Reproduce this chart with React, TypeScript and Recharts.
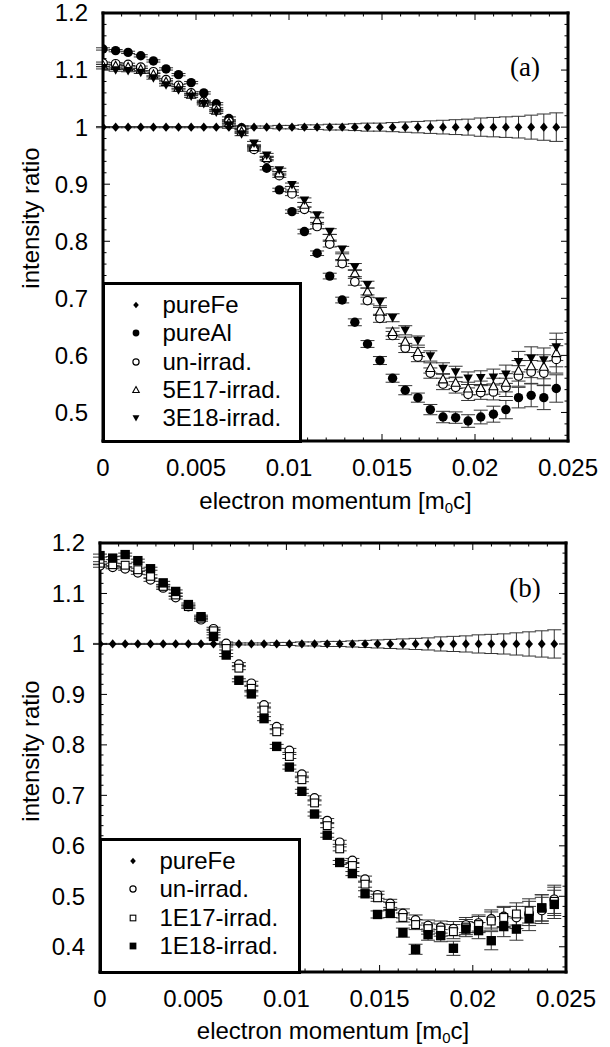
import React from 'react';
import { ScatterChart, Scatter, XAxis, YAxis, ErrorBar, ReferenceLine } from 'recharts';

// electron momentum [m0c], the same channels in both panels
const momentum = [
  0, 0.00068, 0.00135, 0.00203, 0.00271, 0.00339, 0.00406, 0.00474, 0.00542, 0.00609,
  0.00677, 0.00745, 0.00812, 0.0088, 0.00948, 0.01016, 0.01083, 0.01151, 0.01219, 0.01286,
  0.01354, 0.01422, 0.01489, 0.01557, 0.01625, 0.01693, 0.0176, 0.01828, 0.01896, 0.01963,
  0.02031, 0.02099, 0.02166, 0.02234, 0.02302, 0.0237, 0.02437,
];

// panel (a)
const pureFeA = [
  1, 1, 1, 1, 1, 1, 1, 1, 1, 1, 1, 1, 1, 1, 1, 1, 1, 1, 1, 1,
  1, 1, 1, 1, 1, 1, 1, 1, 1, 1, 1, 1, 1, 1, 1, 1, 1,
];
const pureFeErrA = [
  0.001, 0.001, 0.001, 0.001, 0.001, 0.001, 0.001, 0.001, 0.001, 0.001,
  0.002, 0.002, 0.002, 0.002, 0.003, 0.003, 0.004, 0.004, 0.005, 0.005,
  0.006, 0.007, 0.007, 0.008, 0.009, 0.01, 0.011, 0.012, 0.013, 0.014,
  0.016, 0.017, 0.018, 0.019, 0.021, 0.023, 0.025,
];
const pureAlA = [
  1.137, 1.134, 1.131, 1.125, 1.116, 1.102, 1.092, 1.078, 1.06, 1.041,
  1.015, 0.999, 0.963, 0.928, 0.89, 0.852, 0.817, 0.779, 0.739, 0.697,
  0.658, 0.62, 0.591, 0.56, 0.539, 0.526, 0.505, 0.492, 0.491, 0.485,
  0.492, 0.497, 0.505, 0.526, 0.53, 0.526, 0.542,
];
const unIrradA = [
  1.112, 1.111, 1.11, 1.105, 1.097, 1.083, 1.073, 1.06, 1.045, 1.032,
  1.01, 0.995, 0.961, 0.944, 0.915, 0.883, 0.856, 0.826, 0.795, 0.761,
  0.729, 0.696, 0.665, 0.635, 0.613, 0.597, 0.569, 0.55, 0.544, 0.532,
  0.535, 0.536, 0.544, 0.564, 0.571, 0.569, 0.593,
];
const irr5E17A = [
  1.108, 1.107, 1.105, 1.101, 1.092, 1.079, 1.069, 1.057, 1.043, 1.029,
  1.007, 0.992, 0.965, 0.946, 0.919, 0.893, 0.864, 0.837, 0.807, 0.773,
  0.744, 0.712, 0.677, 0.641, 0.624, 0.606, 0.578, 0.558, 0.552, 0.542,
  0.543, 0.546, 0.552, 0.573, 0.581, 0.58, 0.604,
];
const irr3E18A = [
  1.104, 1.1, 1.099, 1.096, 1.086, 1.074, 1.065, 1.054, 1.041, 1.026,
  1.004, 0.988, 0.972, 0.951, 0.925, 0.899, 0.872, 0.846, 0.817, 0.786,
  0.755, 0.724, 0.694, 0.666, 0.644, 0.626, 0.599, 0.577, 0.571, 0.56,
  0.561, 0.562, 0.567, 0.589, 0.595, 0.592, 0.615,
];
const errA = [
  0.002, 0.002, 0.002, 0.002, 0.002, 0.002, 0.002, 0.002, 0.002, 0.002,
  0.003, 0.003, 0.003, 0.003, 0.003, 0.003, 0.004, 0.004, 0.005, 0.005,
  0.006, 0.006, 0.007, 0.007, 0.008, 0.008, 0.009, 0.01, 0.01, 0.011,
  0.012, 0.014, 0.016, 0.018, 0.02, 0.021, 0.024,
];

// panel (b)
const pureFeB = pureFeA.slice();
const pureFeErrB = [
  0.001, 0.001, 0.001, 0.001, 0.001, 0.001, 0.001, 0.001, 0.001, 0.001,
  0.002, 0.002, 0.002, 0.002, 0.003, 0.003, 0.004, 0.004, 0.005, 0.005,
  0.006, 0.007, 0.008, 0.009, 0.01, 0.011, 0.012, 0.014, 0.015, 0.016,
  0.018, 0.019, 0.02, 0.022, 0.024, 0.026, 0.028,
];
const unIrradB = [
  1.155, 1.152, 1.149, 1.141, 1.127, 1.111, 1.092, 1.074, 1.048, 1.03,
  1.001, 0.96, 0.922, 0.879, 0.836, 0.789, 0.742, 0.695, 0.65, 0.607,
  0.571, 0.534, 0.503, 0.486, 0.466, 0.453, 0.442, 0.439, 0.436, 0.443,
  0.447, 0.455, 0.46, 0.458, 0.466, 0.472, 0.494,
];
const irr1E17B = [
  1.16, 1.157, 1.156, 1.147, 1.134, 1.114, 1.097, 1.074, 1.051, 1.026,
  0.991, 0.952, 0.912, 0.869, 0.826, 0.777, 0.731, 0.685, 0.64, 0.594,
  0.561, 0.524, 0.497, 0.48, 0.458, 0.444, 0.436, 0.433, 0.43, 0.439,
  0.444, 0.451, 0.458, 0.465, 0.471, 0.477, 0.49,
];
const irr1E18B = [
  1.175, 1.17, 1.177, 1.165, 1.149, 1.121, 1.104, 1.078, 1.054, 1.015,
  0.978, 0.928, 0.901, 0.852, 0.797, 0.756, 0.708, 0.663, 0.621, 0.567,
  0.545, 0.505, 0.464, 0.466, 0.428, 0.395, 0.424, 0.422, 0.397, 0.435,
  0.432, 0.412, 0.44, 0.435, 0.456, 0.477, 0.484,
];
const errB = [
  0.003, 0.003, 0.003, 0.003, 0.003, 0.003, 0.003, 0.003, 0.003, 0.003,
  0.003, 0.003, 0.004, 0.004, 0.004, 0.004, 0.004, 0.004, 0.004, 0.004,
  0.004, 0.006, 0.007, 0.008, 0.009, 0.01, 0.011, 0.012, 0.014, 0.015,
  0.016, 0.018, 0.02, 0.022, 0.024, 0.026, 0.028,
];

const xLabels = [0, 0.005, 0.01, 0.015, 0.02, 0.025];
const yLabelsA = [0.5, 0.6, 0.7, 0.8, 0.9, 1, 1.1, 1.2];
const yLabelsB = [0.4, 0.5, 0.6, 0.7, 0.8, 0.9, 1, 1.1, 1.2];

const FONT = '"Liberation Sans", Arial, Helvetica, sans-serif';
const SERIF = '"Liberation Serif", "Times New Roman", serif';
const FS = 24;

// minor ticks: x every 0.001, y every 0.02
const xTicks = Array.from({ length: 26 }, (_, i) => i / 1000);
const yTicksFrom = (lo: number, hi: number) => {
  const out: number[] = [];
  for (let k = Math.round(lo * 50); k <= Math.round(hi * 50); k++) out.push(k / 50);
  return out;
};

const pts = (ys: number[], errs: number[]) =>
  momentum.map((x, i) => ({ x, y: ys[i], err: errs[i] }));

type Kind = 'diamond' | 'dot' | 'ring' | 'tri' | 'tridown' | 'square' | 'box';

const Marker = ({ kind, cx, cy, s }: { kind: Kind; cx: number; cy: number; s: number }) => {
  switch (kind) {
    case 'diamond':
      return <polygon points={`${cx},${cy - 4.6 * s} ${cx + 3.9 * s},${cy} ${cx},${cy + 4.6 * s} ${cx - 3.9 * s},${cy}`} fill="#000" />;
    case 'dot':
      return <circle cx={cx} cy={cy} r={4.7 * s} fill="#000" />;
    case 'ring':
      return <circle cx={cx} cy={cy} r={4.3 * s} fill="#fff" stroke="#000" strokeWidth={1.2} />;
    case 'tri':
      return <polygon points={`${cx},${cy - 4.8 * s} ${cx + 4.5 * s},${cy + 3.5 * s} ${cx - 4.5 * s},${cy + 3.5 * s}`} fill="#fff" stroke="#000" strokeWidth={1.1} />;
    case 'tridown':
      return <polygon points={`${cx - 4.8 * s},${cy - 3.7 * s} ${cx + 4.8 * s},${cy - 3.7 * s} ${cx},${cy + 4.8 * s}`} fill="#000" />;
    case 'square':
      return <rect x={cx - 4.7 * s} y={cy - 4.7 * s} width={9.4 * s} height={9.4 * s} fill="#000" />;
    default:
      return <rect x={cx - 3.9 * s} y={cy - 3.9 * s} width={7.8 * s} height={7.8 * s} fill="#fff" stroke="#000" strokeWidth={1.1} />;
  }
};

type Box = { left: number; right: number; top: number; bottom: number };
type SeriesDef = { name: string; kind: Kind; data: { x: number; y: number; err: number }[]; cap: number };

const findMajor = (list: number[], v: number) => list.find((t) => Math.abs(t - v) < 1e-9);

const XTick = ({ x, y, payload, top }: any) => {
  const major = findMajor(xLabels, payload.value);
  const len = major !== undefined ? 7 : 3.5;
  return (
    <g>
      <line x1={x} y1={y} x2={x} y2={y - len} stroke="#000" strokeWidth={1} />
      <line x1={x} y1={top} x2={x} y2={top + len} stroke="#000" strokeWidth={1} />
      {major !== undefined && (
        <text x={x} y={y + 27} dy="0.35em" textAnchor="middle" fontFamily={FONT} fontSize={FS} fill="#000">
          {String(major)}
        </text>
      )}
    </g>
  );
};

const YTick = ({ x, y, payload, right, labels }: any) => {
  const major = findMajor(labels, payload.value);
  const len = major !== undefined ? 7 : 3.5;
  return (
    <g>
      <line x1={x} y1={y} x2={x + len} y2={y} stroke="#000" strokeWidth={1} />
      <line x1={right} y1={y} x2={right - len} y2={y} stroke="#000" strokeWidth={1} />
      {major !== undefined && (
        <text x={x - 15} y={y} dy="0.35em" textAnchor="end" fontFamily={FONT} fontSize={FS} fill="#000">
          {String(major)}
        </text>
      )}
    </g>
  );
};

type PanelProps = {
  top: number;
  height: number;
  box: Box;
  yDomain: [number, number];
  yLabels: number[];
  series: SeriesDef[];
  legendTop: number;
  legendRight: number;
  tag: string;
  tagY: number;
  yTitleY: number;
  xTitleY: number;
};

const Panel = ({ top, height, box, yDomain, yLabels, series, legendTop, legendRight, tag, tagY, yTitleY, xTitleY }: PanelProps) => {
  const yTicks = yTicksFrom(yDomain[0] + 0.01, yDomain[1]);
  const frame = { stroke: '#000', strokeWidth: 3, strokeLinecap: 'square' as const };
  return (
    <div style={{ position: 'absolute', left: 0, top, width: 610, height }}>
      <ScatterChart
        width={610}
        height={height}
        margin={{ top: box.top, right: 610 - box.right, bottom: height - box.bottom - 30, left: box.left - 60 }}
      >
        <XAxis
          type="number"
          dataKey="x"
          domain={[0, 0.025]}
          allowDataOverflow
          ticks={xTicks}
          interval={0}
          height={30}
          tickLine={false}
          tickSize={0}
          tickMargin={0}
          axisLine={frame}
          tick={(p: any) => <XTick {...p} top={box.top} />}
          label={() => (
            <text x={(box.left + box.right) / 2} y={xTitleY} textAnchor="middle" fontFamily={FONT} fontSize={FS} fill="#000">
              electron momentum [m
              <tspan fontSize={15} dy={4}>0</tspan>
              <tspan dy={-4}>c]</tspan>
            </text>
          )}
        />
        <YAxis
          type="number"
          dataKey="y"
          domain={yDomain}
          allowDataOverflow
          ticks={yTicks}
          interval={0}
          width={60}
          tickLine={false}
          tickSize={0}
          tickMargin={0}
          axisLine={frame}
          tick={(p: any) => <YTick {...p} right={box.right} labels={yLabels} />}
          label={() => (
            <text
              x={30}
              y={yTitleY}
              transform={`rotate(-90, 30, ${yTitleY})`}
              textAnchor="middle"
              dominantBaseline="central"
              fontFamily={FONT}
              fontSize={FS}
              fill="#000"
            >
              intensity ratio
            </text>
          )}
        />
        <ReferenceLine y={yDomain[1]} stroke="#000" strokeWidth={3} strokeLinecap="square" />
        <ReferenceLine x={0.025} stroke="#000" strokeWidth={3} strokeLinecap="square" />
        {series.map((s) => (
          <Scatter
            key={s.name}
            name={s.name}
            data={s.data}
            isAnimationActive={false}
            shape={(p: any) => <Marker kind={s.kind} cx={p.cx} cy={p.cy} s={1} />}
          >
            <ErrorBar dataKey="err" direction="y" width={s.cap} stroke="#333" strokeWidth={1} isAnimationActive={false} />
          </Scatter>
        ))}
      </ScatterChart>

      <div
        style={{
          position: 'absolute',
          left: box.left - 1.5,
          top: legendTop - 1.5,
          width: legendRight - box.left + 3,
          height: box.bottom - legendTop + 3,
          border: '3px solid #000',
          boxSizing: 'border-box',
          background: '#fff',
        }}
      >
        {series.map((s, i) => (
          <div key={s.name} style={{ position: 'absolute', left: 0, top: 20.5 + i * 28.3 - 14, height: 28, width: '100%' }}>
            <svg width={40} height={28} style={{ position: 'absolute', left: 12, top: 0 }}>
              <Marker kind={s.kind} cx={19} cy={14} s={0.72} />
            </svg>
            <span
              style={{
                position: 'absolute',
                left: 58,
                top: 0,
                lineHeight: '28px',
                fontFamily: FONT,
                fontSize: FS,
                color: '#000',
                whiteSpace: 'nowrap',
              }}
            >
              {s.name}
            </span>
          </div>
        ))}
      </div>

      <div
        style={{
          position: 'absolute',
          left: 525,
          top: tagY,
          transform: 'translate(-50%, -50%)',
          fontFamily: SERIF,
          fontSize: 27,
          color: '#000',
          lineHeight: 1,
        }}
      >
        {tag}
      </div>
    </div>
  );
};

const seriesA: SeriesDef[] = [
  { name: 'pureFe', kind: 'diamond', data: pts(pureFeA, pureFeErrA), cap: 7 },
  { name: 'pureAl', kind: 'dot', data: pts(pureAlA, errA), cap: 7 },
  { name: 'un-irrad.', kind: 'ring', data: pts(unIrradA, errA), cap: 7 },
  { name: '5E17-irrad.', kind: 'tri', data: pts(irr5E17A, errA), cap: 7 },
  { name: '3E18-irrad.', kind: 'tridown', data: pts(irr3E18A, errA), cap: 7 },
];

const seriesB: SeriesDef[] = [
  { name: 'pureFe', kind: 'diamond', data: pts(pureFeB, pureFeErrB), cap: 7 },
  { name: 'un-irrad.', kind: 'ring', data: pts(unIrradB, errB), cap: 7 },
  { name: '1E17-irrad.', kind: 'box', data: pts(irr1E17B, errB), cap: 7 },
  { name: '1E18-irrad.', kind: 'square', data: pts(irr1E18B, errB), cap: 7 },
];

export default function App() {
  return (
    <div style={{ position: 'absolute', left: 0, top: 0, width: 610, height: 1047, background: '#fff', overflow: 'hidden' }}>
      <Panel
        top={0}
        height={520}
        box={{ left: 103, right: 568, top: 13, bottom: 441 }}
        yDomain={[0.45, 1.2]}
        yLabels={yLabelsA}
        series={seriesA}
        legendTop={283}
        legendRight={300}
        tag="(a)"
        tagY={67}
        yTitleY={218}
        xTitleY={509}
      />
      <Panel
        top={520}
        height={527}
        box={{ left: 100, right: 566, top: 23, bottom: 452 }}
        yDomain={[0.35, 1.2]}
        yLabels={yLabelsB}
        series={seriesB}
        legendTop={319}
        legendRight={299}
        tag="(b)"
        tagY={68}
        yTitleY={231}
        xTitleY={519}
      />
    </div>
  );
}
